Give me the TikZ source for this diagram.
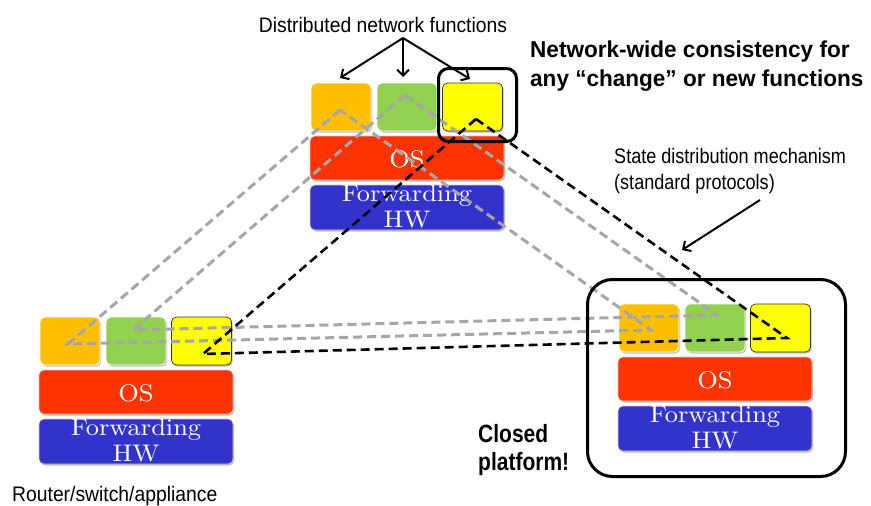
\documentclass[tikz,border=0pt]{standalone}
\usepackage{fontspec}
\usetikzlibrary{arrows.meta,shadows,calc}
\newfontfamily\fDist[FakeStretch=0.92]{Liberation Sans}
\newfontfamily\fState[FakeStretch=0.86]{Liberation Sans}
\newfontfamily\fNet[FakeStretch=0.98]{Liberation Sans}
\newfontfamily\fClosed[FakeStretch=0.84]{Liberation Sans}
\newfontfamily\fBox[FakeStretch=1.1]{lmroman10-regular.otf}
\definecolor{cOr}{HTML}{FFBF00}
\definecolor{cGr}{HTML}{92D050}
\definecolor{cYe}{HTML}{FFFF00}
\definecolor{cOS}{HTML}{FF3300}
\definecolor{cFW}{HTML}{3333CC}
\definecolor{cDash}{HTML}{A6A6A6}
\tikzset{
 shad/.style={drop shadow={shadow xshift=1.2pt,shadow yshift=-1.5pt,opacity=0.25,fill=black}},
 fn/.style={rounded corners=5pt, minimum width=60pt, minimum height=48pt, inner sep=0pt, shad, draw=white, line width=0.8pt},
 fnY/.style={fn, draw=black!80, line width=0.7pt},
 layer/.style={rounded corners=5pt, minimum width=194pt, inner sep=0pt, shad, draw=black!20, line width=0.6pt},
 btxt/.style={font=\fBox\fontsize{24}{28}\selectfont, text=white, inner sep=0pt, anchor=base},
 graydash/.style={draw=cDash, line width=3pt, dash pattern=on 9pt off 5pt},
 blackdash/.style={draw=black, line width=2.6pt, dash pattern=on 9pt off 5pt},
 hl/.style={draw=black, line width=3pt, inner sep=0pt},
 lbl/.style={inner sep=0pt, anchor=base west},
 pointer/.style={draw=black, line width=2pt, -{Straight Barb[length=6pt,width=12pt]}}
}
\newcommand\netstack[3]{%
 \node[fn, fill=cOr] (#1-o) at ({#2+31},{#3+24}) {};
 \node[fn, fill=cGr] (#1-g) at ({#2+97},{#3+24}) {};
 \node[fnY, fill=cYe] (#1-y) at ({#2+162.5},{#3+24}) {};
 \node[layer, fill=cOS, minimum height=44pt] (#1-os) at ({#2+97},{#3+75}) {};
 \node[layer, fill=cFW, minimum height=45pt] (#1-fw) at ({#2+97},{#3+124.5}) {};
 \node[btxt] (#1-ost) at ([yshift=-9pt]#1-os.center) {OS};
 \node[btxt] (#1-fwa) at ([yshift=-17pt]#1-fw.north) {Forwarding};
 \node[btxt] (#1-fwb) at ([yshift=-43pt]#1-fw.north) {HW};
}
\begin{document}
\begin{tikzpicture}[x=1pt,y=-1pt]
\useasboundingbox (0,0) rectangle (871,506);
\netstack{top}{310}{83}
\netstack{bl}{39}{317}
\netstack{br}{618}{304}
% apex points of the distribution triangles
\coordinate (Ao1) at (340,110);
\coordinate (Ao2) at (68,344);
\coordinate (Ao3) at (651,330);
\coordinate (Ag1) at (405,95);
\coordinate (Ag2) at (133,330);
\coordinate (Ag3) at (717,315);
\coordinate (Ay1) at (476,119);
\coordinate (Ay2) at (203,354);
\coordinate (Ay3) at (787,338);
\draw[graydash] (Ao1) -- (Ao2) -- (Ao3) -- cycle;
\draw[graydash] (Ag1) -- (Ag2) -- (Ag3) -- cycle;
\draw[blackdash] (Ay1) -- (Ay2) -- (Ay3) -- cycle;
% highlight frames
\node[hl, rounded corners=10pt, minimum width=78pt, minimum height=73pt] (hlt) at (477.5,105) {};
\node[hl, rounded corners=25pt, minimum width=258pt, minimum height=197pt] (hlb) at (716.5,378) {};
% labels
\node[inner sep=0pt, anchor=base, font=\fDist\fontsize{21}{25}\selectfont] (tdist) at (383,32) {Distributed network functions};
\coordinate (dsrc) at (403,38);
\coordinate (d1) at (340,78);
\coordinate (d2) at (403,77);
\coordinate (d3) at (470,79);
\draw[pointer] (dsrc) -- (d1);
\draw[pointer] (dsrc) -- (d2);
\draw[pointer] (dsrc) -- (d3);
\node[lbl, font=\fNet\bfseries\fontsize{23}{29}\selectfont] (tnet1) at (530,57) {Network-wide consistency for};
\node[lbl, font=\fNet\bfseries\fontsize{23}{29}\selectfont] (tnet2) at (530,86) {any “change” or new functions};
\node[lbl, font=\fState\fontsize{21}{25}\selectfont] (tst1) at (614,163) {State distribution mechanism};
\node[lbl, font=\fState\fontsize{21}{25}\selectfont] (tst2) at (614,189) {(standard protocols)};
\coordinate (ssrc) at (760,200);
\coordinate (stip) at (682,250);
\draw[pointer] (ssrc) -- (stip);
\node[lbl, font=\fClosed\bfseries\fontsize{25}{29}\selectfont] (tcl1) at (478,442) {Closed};
\node[lbl, font=\fClosed\bfseries\fontsize{25}{29}\selectfont] (tcl2) at (478,470) {platform!};
\node[lbl, font=\fDist\fontsize{21}{25}\selectfont] (trt) at (12,501) {Router/switch/appliance};
\end{tikzpicture}
\end{document}
